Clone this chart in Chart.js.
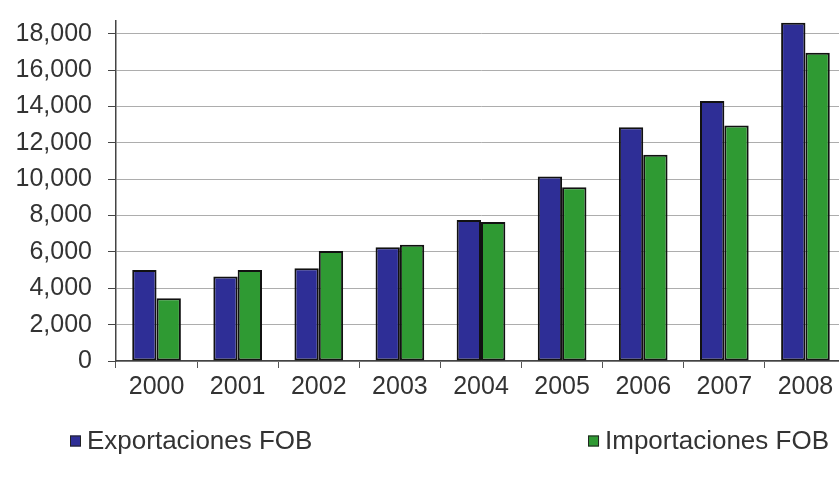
<!DOCTYPE html>
<html>
<head>
<meta charset="utf-8">
<script src="https://cdn.jsdelivr.net/npm/chart.js@4"></script>
<style>
  html, body { margin: 0; padding: 0; background: #fff; overflow: hidden; }
  #wrap { position: relative; width: 848px; height: 479px; }
</style>
</head>
<body>
<div id="wrap"><canvas id="chart"></canvas></div>
<script>
// Años y valores FOB
const years = ['2000', '2001', '2002', '2003', '2004', '2005', '2006', '2007', '2008'];
const exportaciones = [5000, 4650, 5100, 6250, 7750, 10150, 12850, 14300, 18600];
const importaciones = [3450, 5000, 6050, 6400, 7650, 9550, 11350, 12950, 16950];
const yTicks = [0, 2000, 4000, 6000, 8000, 10000, 12000, 14000, 16000, 18000];
const yMax = 18700;

const FONT = '"Liberation Sans", Arial, sans-serif';

// Legend split in two: one item at the left, the other flush right
const splitLegend = {
  id: 'splitLegend',
  afterDraw(chart, args, opts) {
    const ctx = chart.ctx;
    ctx.save();
    ctx.font = opts.size + 'px ' + FONT;
    ctx.textBaseline = 'middle';
    chart.data.datasets.forEach((ds, i) => {
      const item = opts.items[i];
      const w = ctx.measureText(ds.label).width;
      const x = item.align === 'right' ? item.x - w - opts.box - opts.gap : item.x;
      ctx.fillStyle = ds.backgroundColor;
      ctx.fillRect(x, opts.y - opts.box / 2, opts.box, opts.box);
      ctx.strokeStyle = '#222';
      ctx.lineWidth = 1;
      ctx.strokeRect(x + 0.5, opts.y - opts.box / 2 + 0.5, opts.box - 1, opts.box - 1);
      ctx.fillStyle = opts.color;
      ctx.fillText(ds.label, x + opts.box + opts.gap, opts.y + 1);
    });
    ctx.restore();
  }
};

new Chart(document.getElementById('chart'), {
  type: 'bar',
  data: {
    labels: years,
    datasets: [{
      label: 'Exportaciones FOB',
      data: exportaciones,
      backgroundColor: '#2e2e96',
      borderColor: '#111',
      borderWidth: 2,
      borderSkipped: false,
      categoryPercentage: 0.6,
      barPercentage: 1.0
    }, {
      label: 'Importaciones FOB',
      data: importaciones,
      backgroundColor: '#2f9a33',
      borderColor: '#111',
      borderWidth: 2,
      borderSkipped: false,
      categoryPercentage: 0.6,
      barPercentage: 1.0
    }]
  },
  options: {
    responsive: true,
    maintainAspectRatio: false,
    animation: false,
    layout: {
      padding: { top: 21, right: 2, bottom: 70, left: 0 }
    },
    plugins: {
      legend: { display: false },
      tooltip: { enabled: false },
      splitLegend: {
        size: 26,
        color: '#333',
        box: 11,
        gap: 6,
        y: 441,
        items: [{ x: 70, align: 'left' }, { x: 829, align: 'right' }]
      }
    },
    scales: {
      x: {
        grid: {
          offset: true,
          drawOnChartArea: false,
          tickLength: 7,
          color: '#555'
        },
        border: { color: '#444', width: 1.5 },
        ticks: {
          color: '#333',
          padding: 4,
          font: { family: FONT, size: 25 }
        },
        afterFit(scale) {
          scale.height = 48;
          scale.paddingLeft = 0;
          scale.paddingRight = 0;
        }
      },
      y: {
        min: 0,
        max: yMax,
        grid: {
          color: '#adadad',
          tickColor: '#444',
          lineWidth: 1,
          tickLength: 8
        },
        border: { color: '#444', width: 1.5 },
        ticks: {
          autoSkip: false,
          color: '#333',
          padding: 16,
          font: { family: FONT, size: 25 },
          callback: v => v.toLocaleString('en-US')
        },
        afterBuildTicks(scale) {
          scale.ticks = yTicks.map(v => ({ value: v }));
        },
        afterFit(scale) {
          scale.width = 116;
          scale.paddingTop = 0;
          scale.paddingBottom = 0;
        }
      }
    }
  },
  plugins: [splitLegend]
});
</script>
</body>
</html>
